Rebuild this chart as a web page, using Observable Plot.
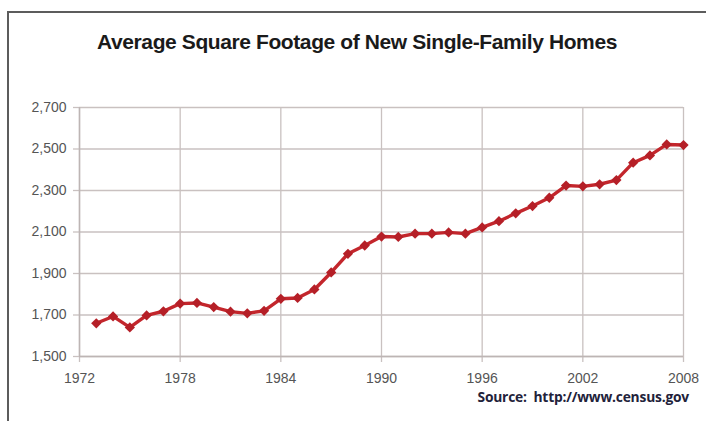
<!DOCTYPE html>
<html>
<head>
<meta charset="utf-8">
<script src="https://cdn.jsdelivr.net/npm/d3@7"></script>
<script src="https://cdn.jsdelivr.net/npm/@observablehq/plot@0.6"></script>
<style>
  html, body { margin: 0; padding: 0; background: #fff; }
  #wrap { position: relative; width: 706px; height: 421px; overflow: hidden; background: #fff; }
  #border { position: absolute; left: 7px; top: 11px; width: 720px; height: 430px;
            border-top: 2px solid #5c5c5c; border-left: 2px solid #5c5c5c; }
  #title { position: absolute; left: 0; width: 714px; top: 30px; text-align: center;
           font-family: "Liberation Sans", Arial, sans-serif; font-weight: bold; font-size: 21px;
           color: #1a1a1a; letter-spacing: -0.4px; }
  #chart { position: absolute; left: 0; top: 80px; }
  #source { position: absolute; right: 17px; top: 387px;
            font-family: "Open Sans", sans-serif; font-weight: bold; font-size: 13.8px;
            color: #22223a; letter-spacing: -0.2px; }
</style>
</head>
<body>
<div id="wrap">
  <div id="border"></div>
  <div id="title">Average Square Footage of New Single-Family Homes</div>
  <div id="chart"></div>
  <div id="source">Source:&nbsp; http://www.census.gov</div>
</div>
<script>
const years = [1973,1974,1975,1976,1977,1978,1979,1980,1981,1982,1983,1984,1985,1986,1987,1988,1989,1990,
               1991,1992,1993,1994,1995,1996,1997,1998,1999,2000,2001,2002,2003,2004,2005,2006,2007,2008];
const sqft  = [1660,1693,1640,1698,1718,1755,1758,1738,1716,1708,1720,1778,1782,1823,1905,1995,2035,2078,
               2076,2092,2092,2098,2092,2122,2152,2190,2225,2265,2324,2320,2330,2350,2434,2469,2522,2519];
const xTicks = [1972,1978,1984,1990,1996,2002,2008];
const yTicks = [1500,1700,1900,2100,2300,2500,2700];

const data = years.map((y, i) => ({year: y, value: sqft[i]}));
const gridColor = "#c9c1c0";
const yearFmt = d => String(d);

const chart = Plot.plot({
  width: 706,
  height: 310,
  marginLeft: 79,
  marginRight: 23,
  marginTop: 27,
  marginBottom: 34,
  style: {fontFamily: "'Liberation Sans', Arial, sans-serif", fontSize: "14px", color: "#555", background: "transparent"},
  x: {domain: [1972, 2008], ticks: xTicks, tickFormat: yearFmt, label: null},
  y: {domain: [1500, 2700], ticks: yTicks, tickFormat: d3.format(","), label: null},
  marks: [
    Plot.gridX(xTicks, {stroke: gridColor, strokeOpacity: 1, strokeWidth: 1.3}),
    Plot.gridY(yTicks, {stroke: gridColor, strokeOpacity: 1, strokeWidth: 1.3}),
    Plot.axisX(xTicks, {tickSize: 6, tickPadding: 11, tickFormat: yearFmt, stroke: gridColor, strokeWidth: 1.3, fill: "#555", fontSize: 14}),
    Plot.axisY(yTicks, {tickSize: 6, tickPadding: 7, tickFormat: d3.format(","), stroke: gridColor, strokeWidth: 1.3, fill: "#555", fontSize: 14}),
    Plot.ruleX([1972], {stroke: "#bdb5b4", strokeWidth: 1.5}),
    Plot.ruleY([1500], {stroke: "#bdb5b4", strokeWidth: 1.5}),
    Plot.line(data, {x: "year", y: "value", stroke: "#c3262c", strokeWidth: 3.4}),
    Plot.dot(data, {x: "year", y: "value", symbol: "square", rotate: 45, fill: "#b51f27", r: 4.1, stroke: "none"})
  ]
});
document.getElementById("chart").appendChild(chart);
</script>
</body>
</html>
